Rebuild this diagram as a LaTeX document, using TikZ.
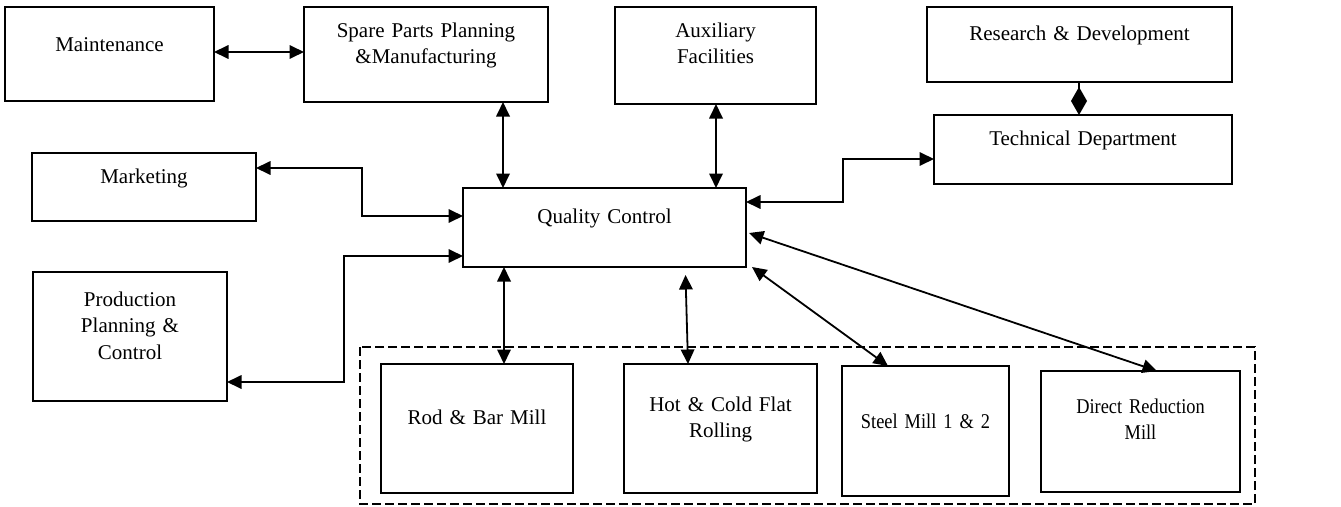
\documentclass[tikz,border=0pt]{standalone}
\usepackage{fontspec}
\setmainfont{Liberation Serif}
\newfontfamily\condfont{Liberation Serif}[FakeStretch=0.875]
\usetikzlibrary{arrows.meta}
\begin{document}
\begin{tikzpicture}[x=1pt,y=-1pt,
  box/.style={draw, line width=1.8pt, inner sep=0pt, outer sep=0pt, align=center,
    anchor=north west, font=\fontsize{21}{26.5}\selectfont},
  arr/.style={line width=1.8pt, {Triangle[length=14.5pt,width=13.5pt]}-{Triangle[length=14.5pt,width=13.5pt]}},
  frame/.style={line width=2.6pt, dash pattern=on 9pt off 4pt}]
\useasboundingbox (0,0) rectangle (1341,506);
% boxes
\node[box, text width=209pt, text height=44pt, text depth=50pt] (maint) at (5,7) {Maintenance};
\node[box, text width=244pt, text height=30pt, text depth=65pt] (spare) at (304,7) {Spare Parts Planning\\\&Manufacturing};
\node[box, text width=201pt, text height=30pt, text depth=67pt] (aux) at (615,7) {Auxiliary\\Facilities};
\node[box, text width=305pt, text height=33pt, text depth=42pt] (rnd) at (927,7) {Research \& Development};
\node[box, text width=298pt, text height=30pt, text depth=39pt] (tech) at (934,115) {Technical Department};
\node[box, text width=224pt, text height=30pt, text depth=38pt] (mkt) at (32,153) {Marketing};
\node[box, text width=194pt, text height=34pt, text depth=95pt] (ppc) at (33,272) {Production\\Planning \&\\Control};
\node[box, text width=283pt, text height=35pt, text depth=44pt] (qc) at (463,188) {Quality Control};
\draw[frame] (360,347) rectangle (1255,504);
\node[box, text width=192pt, text height=60pt, text depth=69pt] (rod) at (381,364) {Rod \& Bar Mill};
\node[box, text width=193pt, text height=47pt, text depth=82pt] (hot) at (624,364) {Hot \& Cold Flat\\Rolling};
\node[box, text width=167pt, text height=62pt, text depth=68pt] (steel) at (842,366) {\condfont Steel Mill 1 \& 2};
\node[box, text width=199pt, text height=42pt, text depth=79pt] (drm) at (1041,371) {\condfont Direct Reduction\\\condfont Mill};
% free ends of connectors
\coordinate (qcH) at (685.5,275);
\coordinate (qcS) at (752,267);
\coordinate (qcD) at (749,233);
% connectors
\draw[arr] (maint.east |- 0,52) -- (spare.west |- 0,52);
\draw[arr] (spare.south -| 503,0) -- (qc.north -| 503,0);
\draw[arr] (aux.south -| 716,0) -- (qc.north -| 716,0);
\draw[arr] (qc.east |- 0,202) -| (843,159) -- (tech.west |- 0,159);
\draw[arr] (mkt.east |- 0,168) -| (362,216) -- (qc.west |- 0,216);
\draw[arr] (ppc.east |- 0,382) -| (344,256) -- (qc.west |- 0,256);
\draw[arr] (qc.south -| 504,0) -- (rod.north -| 504,0);
\draw[arr] (qcH) -- (hot.north -| 688,0);
\draw[arr] (qcS) -- (steel.north -| 888,0);
\draw[arr] (qcD) -- (drm.north -| 1157,0);
\draw[line width=1.6pt, -{Diamond[length=28pt,width=16pt]}] (rnd.south -| 1079,0) -- (tech.north -| 1079,0);
\end{tikzpicture}
\end{document}
